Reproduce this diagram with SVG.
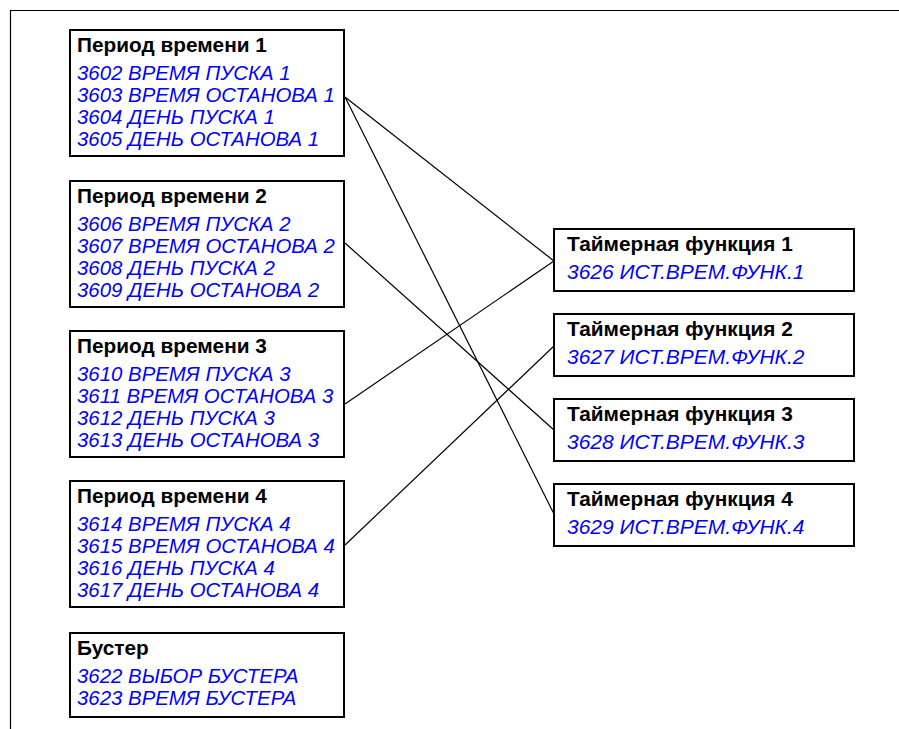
<svg xmlns="http://www.w3.org/2000/svg" width="899" height="729" viewBox="0 0 899 729">
<style>
.frame{fill:none;stroke:#000;stroke-width:1.2}
.box{fill:#fff;stroke:#000;stroke-width:2}
.t{font-family:"Liberation Sans",Arial,sans-serif;font-weight:bold;font-size:20.8px;fill:#000}
.p{font-family:"Liberation Sans",Arial,sans-serif;font-style:italic;font-size:20.4px;fill:#0000ff}
.q{font-family:"Liberation Sans",Arial,sans-serif;font-style:italic;font-size:21px;fill:#0000ff}
.c{stroke:#000;stroke-width:1.2;fill:none}
</style>
<rect width="899" height="729" fill="#fff"/>
<path class="frame" d="M10.5,729 V10.5 H899"/>
<g id="connectors">
<line class="c" x1="345" y1="97" x2="554" y2="261"/>
<line class="c" x1="345" y1="97" x2="554" y2="514"/>
<line class="c" x1="345" y1="243" x2="554" y2="430"/>
<line class="c" x1="345" y1="404" x2="554" y2="261"/>
<line class="c" x1="345" y1="545" x2="554" y2="346"/>
</g>
<g id="period1">
<rect class="box" x="70" y="30" width="274" height="126"/>
<text class="t" x="77" y="52">Период времени 1</text>
<text class="p" x="77" y="80">3602 ВРЕМЯ ПУСКА 1</text>
<text class="p" x="77" y="102">3603 ВРЕМЯ ОСТАНОВА 1</text>
<text class="p" x="77" y="124">3604 ДЕНЬ ПУСКА 1</text>
<text class="p" x="77" y="146">3605 ДЕНЬ ОСТАНОВА 1</text>
</g>
<g id="period2">
<rect class="box" x="70" y="181" width="274" height="126"/>
<text class="t" x="77" y="203">Период времени 2</text>
<text class="p" x="77" y="231">3606 ВРЕМЯ ПУСКА 2</text>
<text class="p" x="77" y="253">3607 ВРЕМЯ ОСТАНОВА 2</text>
<text class="p" x="77" y="275">3608 ДЕНЬ ПУСКА 2</text>
<text class="p" x="77" y="297">3609 ДЕНЬ ОСТАНОВА 2</text>
</g>
<g id="period3">
<rect class="box" x="70" y="331" width="274" height="126"/>
<text class="t" x="77" y="353">Период времени 3</text>
<text class="p" x="77" y="381">3610 ВРЕМЯ ПУСКА 3</text>
<text class="p" x="77" y="403">3611 ВРЕМЯ ОСТАНОВА 3</text>
<text class="p" x="77" y="425">3612 ДЕНЬ ПУСКА 3</text>
<text class="p" x="77" y="447">3613 ДЕНЬ ОСТАНОВА 3</text>
</g>
<g id="period4">
<rect class="box" x="70" y="481" width="274" height="126"/>
<text class="t" x="77" y="503">Период времени 4</text>
<text class="p" x="77" y="531">3614 ВРЕМЯ ПУСКА 4</text>
<text class="p" x="77" y="553">3615 ВРЕМЯ ОСТАНОВА 4</text>
<text class="p" x="77" y="575">3616 ДЕНЬ ПУСКА 4</text>
<text class="p" x="77" y="597">3617 ДЕНЬ ОСТАНОВА 4</text>
</g>
<g id="booster">
<rect class="box" x="70" y="633" width="274" height="84"/>
<text class="t" x="77" y="655">Бустер</text>
<text class="p" x="77" y="683">3622 ВЫБОР БУСТЕРА</text>
<text class="p" x="77" y="705">3623 ВРЕМЯ БУСТЕРА</text>
</g>
<g id="timer1">
<rect class="box" x="554" y="229" width="300" height="62"/>
<text class="t" x="567" y="251">Таймерная функция 1</text>
<text class="q" x="567" y="279">3626 ИСТ.ВРЕМ.ФУНК.1</text>
</g>
<g id="timer2">
<rect class="box" x="554" y="314" width="300" height="62"/>
<text class="t" x="567" y="336">Таймерная функция 2</text>
<text class="q" x="567" y="364">3627 ИСТ.ВРЕМ.ФУНК.2</text>
</g>
<g id="timer3">
<rect class="box" x="554" y="399" width="300" height="62"/>
<text class="t" x="567" y="421">Таймерная функция 3</text>
<text class="q" x="567" y="449">3628 ИСТ.ВРЕМ.ФУНК.3</text>
</g>
<g id="timer4">
<rect class="box" x="554" y="484" width="300" height="62"/>
<text class="t" x="567" y="506">Таймерная функция 4</text>
<text class="q" x="567" y="534">3629 ИСТ.ВРЕМ.ФУНК.4</text>
</g>
</svg>
